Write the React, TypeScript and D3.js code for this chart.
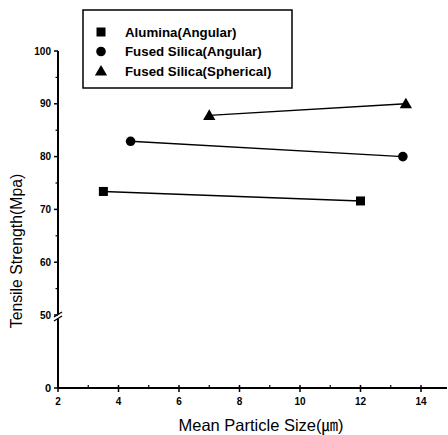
import React from "react";
import * as d3 from "d3";

const seriesNames = ["Alumina(Angular)", "Fused Silica(Angular)", "Fused Silica(Spherical)"];
const aluminaX = [3.5, 12];
const aluminaY = [73.4, 71.6];
const silicaAngX = [4.4, 13.4];
const silicaAngY = [82.9, 80];
const silicaSphX = [7.0, 13.5];
const silicaSphY = [87.8, 90];
const xTicks = [2, 4, 6, 8, 10, 12, 14];
const xMinorTicks = [3, 5, 7, 9, 11, 13];
const yTicksUpper = [50, 60, 70, 80, 90, 100];
const yMinorUpper = [55, 65, 75, 85, 95];
const yTicksLower = [0];

const W = 448, H = 435;
const x = d3.scaleLinear().domain([2, 14]).range([58, 421]);
const yU = d3.scaleLinear().domain([50, 100]).range([315, 51]);
const yL = d3.scaleLinear().domain([0, 50]).range([388, 317]);

const font = "'Liberation Sans', Arial, sans-serif";

function Marker({ kind, cx, cy }: { kind: number; cx: number; cy: number }) {
  if (kind === 0) return <rect x={cx - 4.5} y={cy - 4.5} width={9} height={9} fill="#000" />;
  if (kind === 1) return <circle cx={cx} cy={cy} r={4.8} fill="#000" />;
  const s = d3.symbol().type(d3.symbolTriangle).size(65)();
  return <path d={s || ""} transform={`translate(${cx},${cy + 1})`} fill="#000" />;
}

export default function App() {
  const series = [
    { xs: aluminaX, ys: aluminaY },
    { xs: silicaAngX, ys: silicaAngY },
    { xs: silicaSphX, ys: silicaSphY },
  ];
  const line = d3.line<[number, number]>().x((d) => x(d[0])).y((d) => yU(d[1]));
  const x0 = x(2);
  const yBase = yL(0);
  return (
    <svg width={W} height={H} style={{ position: "absolute", left: 0, top: 0, background: "#fff" }}>
      {/* axes */}
      <line x1={x0} x2={x0} y1={yU(100)} y2={yBase} stroke="#000" strokeWidth={2} />
      <line x1={x0} x2={447} y1={yBase} y2={yBase} stroke="#000" strokeWidth={2} />
      {/* axis break */}
      <rect x={x0 - 6} y={yU(50) - 1} width={12} height={5} fill="#fff" />
      <line x1={x0 - 4} x2={x0 + 4} y1={yU(50) + 2} y2={yU(50) - 3} stroke="#000" strokeWidth={1.3} />
      <line x1={x0 - 4} x2={x0 + 4} y1={yU(50) + 6} y2={yU(50) + 1} stroke="#000" strokeWidth={1.3} />
      {/* y ticks */}
      {yTicksUpper.map((t) => (
        <g key={"yu" + t}>
          <line x1={x0 - 4} x2={x0} y1={yU(t)} y2={yU(t)} stroke="#000" strokeWidth={1.5} />
          <text x={x0 - 7} y={yU(t)} dy="0.35em" textAnchor="end" fontSize={10} fontWeight="bold" fontFamily={font}>{t}</text>
        </g>
      ))}
      {yMinorUpper.map((t) => (
        <line key={"ym" + t} x1={x0 - 2.5} x2={x0} y1={yU(t)} y2={yU(t)} stroke="#000" strokeWidth={1.2} />
      ))}
      {yTicksLower.map((t) => (
        <g key={"yl" + t}>
          <line x1={x0 - 4} x2={x0} y1={yL(t)} y2={yL(t)} stroke="#000" strokeWidth={1.5} />
          <text x={x0 - 7} y={yL(t)} dy="0.35em" textAnchor="end" fontSize={11} fontWeight="bold" fontFamily={font}>{t}</text>
        </g>
      ))}
      {/* x ticks */}
      {xTicks.map((t) => (
        <g key={"x" + t}>
          <line x1={x(t)} x2={x(t)} y1={yBase - 3} y2={yBase + 4} stroke="#000" strokeWidth={1.5} />
          <text x={x(t)} y={yBase + 17} textAnchor="middle" fontSize={10} fontWeight="bold" fontFamily={font}>{t}</text>
        </g>
      ))}
      {xMinorTicks.map((t) => (
        <line key={"xm" + t} x1={x(t)} x2={x(t)} y1={yBase - 3} y2={yBase + 1} stroke="#000" strokeWidth={1.2} />
      ))}
      {/* series */}
      {series.map((s, i) => {
        const pts = s.xs.map((v, j) => [v, s.ys[j]] as [number, number]);
        return (
          <g key={"s" + i}>
            <path d={line(pts) || ""} fill="none" stroke="#000" strokeWidth={1.4} />
            {pts.map((p, j) => (
              <Marker key={j} kind={i} cx={x(p[0])} cy={yU(p[1])} />
            ))}
          </g>
        );
      })}
      {/* legend */}
      <rect x={83} y={10} width={209} height={78} fill="#fff" stroke="#000" strokeWidth={1.5} />
      {seriesNames.map((n, i) => (
        <g key={"l" + i}>
          <Marker kind={i} cx={101} cy={32 + i * 19.5} />
          <text x={125} y={32 + i * 19.5} dy="0.35em" fontSize={13.3} fontWeight="bold" fontFamily={font}>{n}</text>
        </g>
      ))}
      {/* titles */}
      <text x={261} y={431} textAnchor="middle" fontSize={16.5} fontFamily={font + ", 'Noto Sans CJK KR'"}>Mean Particle Size(㎛)</text>
      <text transform={`translate(22,251) rotate(-90)`} textAnchor="middle" fontSize={15.8} fontFamily={font}>Tensile Strength(Mpa)</text>
    </svg>
  );
}
